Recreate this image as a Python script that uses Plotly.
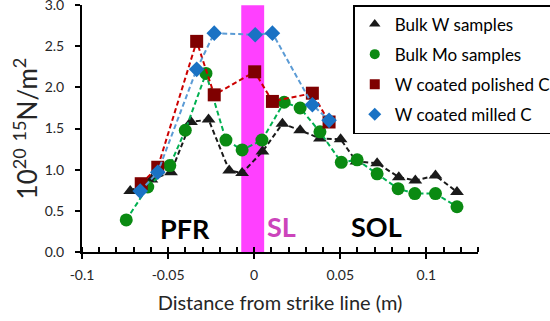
import plotly.graph_objects as go

# Bulk W samples
w_x = [-0.0720, -0.0597, -0.0483, -0.0367, -0.0265, -0.0145, -0.0070, 0.0048, 0.0164,
       0.0267, 0.0382, 0.0502, 0.0594, 0.0714, 0.0840, 0.0936, 0.1053, 0.1178]
w_y = [0.74, 0.88, 0.97, 1.58, 1.61, 0.99, 0.96, 1.22, 1.56,
       1.48, 1.38, 1.37, 1.10, 1.08, 0.91, 0.87, 0.93, 0.73]

# Bulk Mo samples
mo_x = [-0.0743, -0.0618, -0.0490, -0.0400, -0.0280, -0.0164, -0.0070, 0.0045, 0.0174,
        0.0267, 0.0382, 0.0506, 0.0598, 0.0714, 0.0836, 0.0933, 0.1053, 0.1178]
mo_y = [0.39, 0.79, 1.05, 1.48, 2.17, 1.36, 1.24, 1.36, 1.82,
        1.75, 1.46, 1.09, 1.12, 0.95, 0.77, 0.71, 0.71, 0.55]

# W coated polished C
pc_x = [-0.0656, -0.0560, -0.0334, -0.0232, 0.0003, 0.0106, 0.0338, 0.0435]
pc_y = [0.83, 1.03, 2.56, 1.91, 2.19, 1.83, 1.93, 1.58]

# W coated milled C
mc_x = [-0.0662, -0.0560, -0.0334, -0.0232, 0.0006, 0.0106, 0.0338, 0.0435]
mc_y = [0.74, 0.97, 2.22, 2.66, 2.64, 2.66, 1.79, 1.60]

x_ticks = [-0.1, -0.05, 0, 0.05, 0.1]
x_tick_labels = ["-0.1", "-0.05", "0", "0.05", "0.1"]
y_ticks = [0.0, 0.5, 1.0, 1.5, 2.0, 2.5, 3.0]
y_tick_labels = ["0.0", "0.5", "1.0", "1.5", "2.0", "2.5", "3.0"]

strike_band = (-0.0075, 0.0058)

FONT = "Lato"

series = [
    ("Bulk W samples", w_x, w_y, "triangle-up", "#1a1a1a", "#1a1a1a", 12),
    ("Bulk Mo samples", mo_x, mo_y, "circle", "#0a8a12", "#00b050", 13),
    ("W coated polished C", pc_x, pc_y, "square", "#7f0000", "#cc0000", 13),
    ("W coated milled C", mc_x, mc_y, "diamond", "#1a72c4", "#5b9bd5", 12),
]

fig = go.Figure()

for name, xs, ys, sym, mcol, lcol, size in series:
    fig.add_trace(go.Scatter(
        x=xs, y=ys, mode="lines+markers", showlegend=False,
        line=dict(color=lcol, width=2, dash="5px,3px"),
        marker=dict(symbol=sym, color=mcol, size=size, line=dict(width=0)),
    ))

# legend entries: marker only
for name, xs, ys, sym, mcol, lcol, size in series:
    fig.add_trace(go.Scatter(
        x=[None], y=[None], mode="markers", name=name, legendgroup=name,
        marker=dict(symbol=sym, color=mcol, size=10),
    ))

fig.add_shape(type="rect", xref="x", yref="y", x0=strike_band[0], x1=strike_band[1],
              y0=0, y1=3, fillcolor="#ff40ff", line=dict(width=0), layer="below")

for txt, xv, yv, col in [("PFR", -0.040, 0.28, "black"), ("SL", 0.016, 0.31, "#cc44bb"),
                         ("SOL", 0.071, 0.31, "black")]:
    fig.add_annotation(x=xv, y=yv, xref="x", yref="y", text=f"<b>{txt}</b>", showarrow=False,
                       font=dict(family=FONT, size=27, color=col))

fig.update_layout(
    width=550, height=321,
    margin=dict(l=82, r=72, t=5, b=69, autoexpand=False),
    plot_bgcolor="white", paper_bgcolor="white",
    font=dict(family=FONT, color="#262626"),
    legend=dict(
        x=0.685, y=1.0, xanchor="left", yanchor="top",
        bgcolor="white", bordercolor="black", borderwidth=1.5,
        font=dict(family=FONT, size=17, color="black"),
        tracegroupgap=5, itemwidth=30,
    ),
    xaxis=dict(
        range=[-0.1, 0.13], showgrid=False, zeroline=False, automargin=False,
        showline=True, linecolor="black", linewidth=2,
        tickmode="array", tickvals=x_ticks, ticktext=x_tick_labels,
        ticks="outside", ticklen=5, tickwidth=1.5, tickcolor="black",
        tickfont=dict(family=FONT, size=14, color="#262626"),
        ticklabelstandoff=4,
        minor=dict(tickmode="linear", tick0=-0.1, dtick=0.01, ticks="inside",
                   ticklen=5, tickwidth=1.5, tickcolor="black"),
        title=dict(text="Distance from strike line (m)", font=dict(family=FONT, size=20, color="#262626"),
                   standoff=14),
    ),
    yaxis=dict(
        range=[0, 3.002], showgrid=False, zeroline=False, automargin=False,
        showline=True, linecolor="black", linewidth=2,
        tickmode="array", tickvals=y_ticks, ticktext=y_tick_labels,
        ticks="outside", ticklen=5, tickwidth=1.5, tickcolor="black",
        tickfont=dict(family=FONT, size=14, color="#262626"),
        ticklabelstandoff=8, ticklabeloverflow="allow",
        title=dict(text="10<sup>20</sup> <sup>15</sup>N/m<sup>2</sup>",
                   font=dict(family=FONT, size=26, color="#262626"), standoff=0),
    ),
)

fig.write_html("out.html")
